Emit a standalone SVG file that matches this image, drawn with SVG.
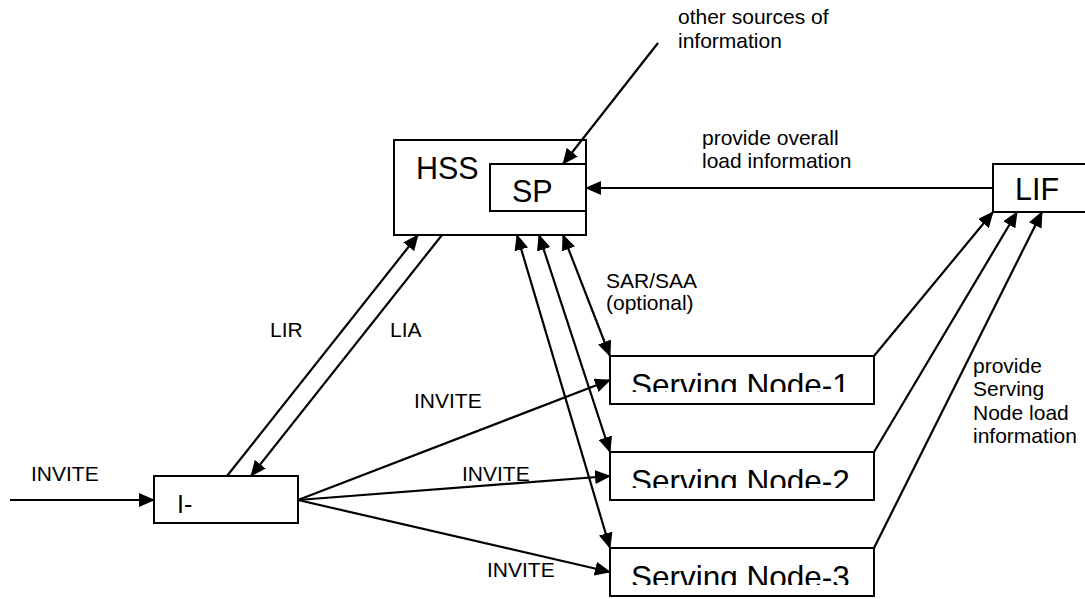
<svg xmlns="http://www.w3.org/2000/svg" width="1085" height="599" viewBox="0 0 1085 599">
  <style>
    .box { fill: #fff; stroke: #000; stroke-width: 2; }
    .t { font-family: "Liberation Sans", Arial, sans-serif; fill: #000; }
    .big { font-size: 30.5px; }
    .sn { font-size: 31.5px; }
    .lbl { font-size: 21px; }
    .conn line { stroke: #000; stroke-width: 2.2; fill: none; }
  </style>
  <defs>
    <marker id="arrow" viewBox="0 0 16 14" refX="15" refY="7" markerWidth="16" markerHeight="14" markerUnits="userSpaceOnUse" orient="auto-start-reverse">
      <path d="M0,0 L16,7 L0,14 z" fill="#000"/>
    </marker>
    <clipPath id="clip-sn1"><rect x="610" y="356" width="264" height="36"/></clipPath>
    <clipPath id="clip-sn2"><rect x="610" y="452" width="264" height="36"/></clipPath>
    <clipPath id="clip-sn3"><rect x="610" y="548" width="264" height="37"/></clipPath>
  </defs>
  <rect width="1085" height="599" fill="#fff"/>

  <!-- Nodes -->
  <g id="hss">
    <rect class="box" x="394" y="140" width="192" height="95"/>
    <text class="t big" x="416" y="179">HSS</text>
  </g>
  <g id="sp">
    <rect class="box" x="490" y="164" width="96" height="47"/>
    <text class="t big" x="512" y="202">SP</text>
  </g>
  <g id="lif">
    <rect class="box" x="993" y="164" width="100" height="48"/>
    <text class="t big" x="1015" y="200">LIF</text>
  </g>
  <g id="i-cscf">
    <rect class="box" x="154" y="476" width="144" height="47"/>
    <text class="t" font-size="25" x="177" y="513">I-</text>
  </g>
  <g id="serving-node-1">
    <rect class="box" x="610" y="356" width="264" height="48"/>
    <text class="t sn" x="631" y="396" clip-path="url(#clip-sn1)">Serving Node-1</text>
  </g>
  <g id="serving-node-2">
    <rect class="box" x="610" y="452" width="264" height="48"/>
    <text class="t sn" x="631" y="492" clip-path="url(#clip-sn2)">Serving Node-2</text>
  </g>
  <g id="serving-node-3">
    <rect class="box" x="610" y="548" width="264" height="48"/>
    <text class="t sn" x="631" y="588" clip-path="url(#clip-sn3)">Serving Node-3</text>
  </g>

  <!-- Connectors -->
  <g id="connectors" class="conn">
    <!-- incoming INVITE -->
    <line x1="10" y1="500" x2="154" y2="500" marker-end="url(#arrow)"/>
    <!-- LIR / LIA -->
    <line x1="227" y1="476" x2="418" y2="235" marker-end="url(#arrow)"/>
    <line x1="442" y1="235" x2="251" y2="476" marker-end="url(#arrow)"/>
    <!-- INVITE fan-out -->
    <line x1="298" y1="500" x2="610" y2="380" marker-end="url(#arrow)"/>
    <line x1="298" y1="500" x2="610" y2="476" marker-end="url(#arrow)"/>
    <line x1="298" y1="500" x2="610" y2="572" marker-end="url(#arrow)"/>
    <!-- HSS to serving nodes -->
    <line x1="563" y1="235" x2="610" y2="356" marker-start="url(#arrow)" marker-end="url(#arrow)"/>
    <line x1="539" y1="235" x2="610" y2="452" marker-start="url(#arrow)" marker-end="url(#arrow)"/>
    <line x1="517" y1="235" x2="610" y2="548" marker-start="url(#arrow)" marker-end="url(#arrow)"/>
    <!-- serving node load to LIF -->
    <line x1="874" y1="356" x2="993" y2="212" marker-end="url(#arrow)"/>
    <line x1="874" y1="452" x2="1017" y2="212" marker-end="url(#arrow)"/>
    <line x1="874" y1="548" x2="1042" y2="212" marker-end="url(#arrow)"/>
    <!-- overall load to SP -->
    <line x1="993" y1="188" x2="586" y2="188" marker-end="url(#arrow)"/>
    <!-- other sources to SP -->
    <line x1="658" y1="43" x2="563" y2="164" marker-end="url(#arrow)"/>
  </g>

  <!-- Labels -->
  <g id="labels" class="t lbl">
    <text x="678" y="24">other sources of</text>
    <text x="678" y="48">information</text>
    <text x="702" y="145">provide overall</text>
    <text x="702" y="168">load information</text>
    <text x="606" y="288">SAR/SAA</text>
    <text x="606" y="310">(optional)</text>
    <text x="270" y="337">LIR</text>
    <text x="390" y="337">LIA</text>
    <text x="414" y="408">INVITE</text>
    <text x="462" y="481">INVITE</text>
    <text x="487" y="577">INVITE</text>
    <text x="31" y="481">INVITE</text>
    <text x="973" y="373">provide</text>
    <text x="973" y="396">Serving</text>
    <text x="973" y="420">Node load</text>
    <text x="973" y="443">information</text>
  </g>
</svg>
